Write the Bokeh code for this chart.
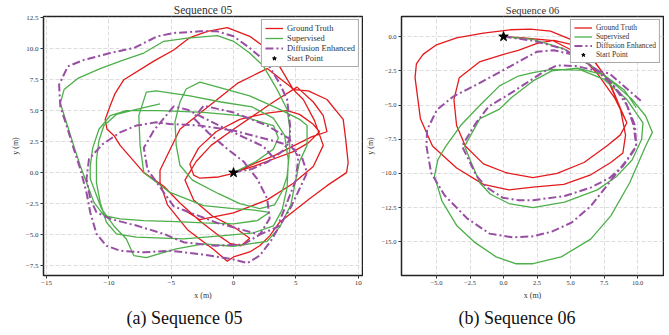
from bokeh.plotting import figure
from bokeh.models import FixedTicker, Legend, LegendItem, Title, Range1d
from bokeh.layouts import row
from bokeh.embed import file_html
from bokeh.resources import INLINE

# ---------------- data: Sequence 05 ----------------
gt05_x = [0, 1.6, 3.2, 4.8, 6.0, 6.9, 6.4, 5.3, 4.3, 2.7, 0.5, -1.4, -2.8, -3.5, -3.2, -2.7, -1.2, 0, 1.7, 3.3, 4.9, 6.3, 7.5,
          7.2, 6.4, 5.1, 3.2, 1.6, 0.0, -1.8, -3.0, -3.9, -3.2, -1.7, 0.2, 1.3, 0.6, -0.3, -1.3, -2.7, -4.3, -5.6, -7.2,
          -9.1, -9.6, -10.15, -10.3, -9.9, -9.5, -8.8, -6.4, -4.8, -3.5, -2.1, -0.5, 1.3, 2.4, 3.5, 4.8, 6.0, 7.5, 8.8,
          9.0, 9.2, 9.07, 7.5, 6.1, 3.7, 2.9, 2.1, 1.3, 0.0, -0.5, -1.6, -3.7, -5.3, -5.9, -5.9, -4.3, -2.7, 0.3, 2.7,
          4.5, 5.6, 6.5, 7.2, 6.4, 4.8, 2.7, 0.0, -2.7, -4.0]
gt05_y = [0, 0.5, 1.1, 1.7, 2.4, 3.3, 3.9, 4.7, 5.0, 4.8, 4.3, 3.3, 2.0, 0.7, -0.2, -0.45, -0.35, -0.05, 0.75, 1.4, 2.2, 2.9,
          3.3, 4.6, 5.7, 6.9, 5.7, 4.6, 3.5, 2.2, 0.9, -0.6, -2.2, -3.5, -4.5, -5.3, -5.9, -5.7, -5.0, -3.9, -2.45, -1.1,
          0.0, 2.2, 3.0, 3.5, 4.3, 5.4, 6.4, 7.5, 9.0, 9.9, 10.9, 11.4, 11.7, 11.0, 10.2, 8.9, 6.7, 6.6, 5.9, 4.3, 2.7,
          0.8, 0.0, -1.05, -2.1, -4.0, -5.1, -5.9, -6.4, -6.8, -7.15, -6.2, -4.6, -2.6, -0.8, 0.2, 3.5, 4.8, 7.2, 8.4,
          7.0, 5.9, 4.2, 2.2, 0.5, -0.85, -2.2, -3.25, -3.8, -3.0]

sup05_x = [0, 1.8, 3.2, 3.6, 3.2, 0.5, -2.4, -5.9, -8.6, -9.9, -10.8, -11.3, -11.5, -11.5, -10.6, -9.6, -8.6, -8.0, -7.0,
           -4.6, -2.4, 0.0, 2.7, 3.7, 4.6, 4.95, 5.3, 5.9, 5.9, 5.3, 3.7, 1.3, -2.7, -3.8, -4.3, -4.7, -4.6, -4.3, -3.3,
           -1.2, 0.5, 2.1, 3.3, 3.9, 4.3, 4.5, 4.5, 4.3, 3.5, 2.4, 1.3, 0.0, -1.3, -3.7, -5.6, -7.2, -8.8, -10.7, -12.5,
           -13.6, -13.9, -13.3, -12.8, -12.3, -11.8, -11.2, -10.4, -9.1, -7.2, -4.6, -2.4, 0.0, 1.9, 2.9, 1.5, 0.0, -2.4,
           -5.1, -7.2, -7.5, -7.6, -7.0, -6.2, -3.5, -1.0, 1.5, 3.2, 4.1, 4.4, 4.3, 3.9, 3.2, 1.6, -1.0, -4.0, -7.8, -9.4,
           -10.2, -10.7, -11.0, -11.0, -10.8, -10.4, -9.4, -7.8, -5.9]
sup05_y = [0, 0.9, 1.9, 2.8, 3.8, 4.6, 4.86, 5.0, 5.0, 4.6, 3.5, 2.0, 0.5, -0.5, -2.9, -4.3, -5.35, -6.7, -6.85, -6.15,
           -5.75, -5.94, -5.54, -4.4, -2.6, -0.8, 0.9, 2.2, 3.8, 4.3, 5.1, 6.2, 7.3, 6.75, 5.7, 4.1, 2.2, 0.6, -0.6, -1.7,
           -2.5, -2.9, -2.6, -1.5, -0.3, 1.8, 3.7, 5.1, 6.7, 8.6, 9.65, 10.6, 11.05, 10.86, 10.6, 9.65, 9.1, 8.4, 7.6, 6.7,
           5.6, 3.7, 2.1, 0.56, -0.8, -2.4, -3.47, -3.73, -3.87, -3.95, -4.06, -4.14, -3.87, -3.2, -3.0, -2.9, -2.66,
           -1.6, 0.0, 2.2, 4.6, 6.5, 6.6, 6.2, 5.7, 5.3, 4.4, 3.0, 1.0, -1.2, -3.0, -4.3, -4.86, -5.1, -5.35, -5.2, -4.94,
           -4.0, -2.4, -0.8, 1.0, 2.6, 3.8, 4.7, 5.1, 5.55]

dif05_x = [0, 1.5, 2.8, 4.0, 4.5, 4.55, 4.3, 3.7, 2.7, 1.3, 0, -1.3, -2.7, -4.8, -6.1, -8.0, -9.9, -12.0, -13.3, -14.0,
           -13.9, -13.3, -12.8, -12.3, -11.8, -11.5, -11.0, -10.2, -9.1, -7.2, -5.1, -2.5, 0.0, 1.1, 2.1, 3.0, 3.7, 4.6,
           5.3, 5.9, 5.5, 4.5, 2.7, 0.0, -2.7, -5.1, -6.2, -7.8, -9.1, -10.5, -11.6, -11.8, -11.5, -11.0, -9.9, -7.8,
           -5.6, -4.0, -1.5, 0.8, 2.1, 2.9, 2.7, 1.9, 0.8, -0.6, -2.0, -3.2, -2.4, 0.0, 2.7, 4.5, 5.2, 5.0, 4.3, 3.5, 2.1,
           -1.3, -4.8, -6.9, -7.2, -6.4, -4.8, -3.7, -0.5, 2.4, 3.2]
dif05_y = [0, 0.3, 0.9, 1.8, 2.7, 3.7, 5.9, 7.2, 8.85, 10.06, 11.0, 11.4, 11.4, 11.27, 11.0, 10.06, 9.65, 9.1, 8.57, 7.1,
           5.35, 3.47, 1.85, 0.3, -1.6, -3.2, -4.94, -5.9, -6.3, -6.43, -6.3, -6.6, -7.0, -7.3, -6.7, -5.5, -4.3, -2.8,
           -1.3, 0.0, 1.2, 2.2, 2.7, 3.4, 3.8, 3.93, 4.06, 3.8, 3.25, 2.3, 1.1, -0.5, -2.1, -3.2, -3.73, -4.27, -4.94,
           -5.62, -5.9, -5.8, -5.0, -3.7, -2.1, -0.5, 0.9, 2.0, 3.2, 4.4, 5.4, 4.86, 3.8, 2.72, 1.2, -0.6, -2.4, -4.4,
           -5.0, -4.06, -2.72, 0.24, 2.0, 3.4, 5.35, 5.08, 3.47, 2.12, 1.2]

start05_x = [0.0]
start05_y = [0.0]

# ---------------- data: Sequence 06 ----------------
gt06_x = [0, 1.5, 3.7, 5.5, 7.0, 8.3, 9.2, 8.7, 7.7, 6.0, 4.0, 2.2, 0.2, -1.5, -2.85, -3.5, -3.7, -3.3, -1.8, 0.0, 1.1,
          2.5, 3.75, 5.2, 6.6, 7.9, 8.7, 9.1, 8.9, 8.0, 6.5, 4.5, 2.2, 0.4, -1.5, -3.5, -5.3, -6.2, -6.6, -6.5, -6.0,
          -5.0, -3.5, -1.5, 0.5, 2.0, 3.5, 5.0, 6.5, 7.8, 8.6, 9.2]
gt06_y = [0, -0.1, -0.3, -1.2, -2.7, -4.5, -6.3, -7.2, -8.0, -9.2, -10.0, -10.3, -9.95, -9.3, -8.0, -6.5, -4.6, -3.0,
          -1.85, -1.3, -1.0, -0.5, -0.27, -0.6, -1.6, -3.3, -5.2, -7.2, -8.5, -9.2, -10.1, -10.8, -11.0, -11.2, -10.8,
          -9.6, -8.0, -6.0, -3.0, -2.0, -1.3, -0.6, -0.1, 0.25, 0.5, 0.55, 0.4, -0.2, -1.4, -3.2, -5.0, -6.3]

sup06_x = [0, 2.2, 4.5, 6.5, 8.2, 9.6, 10.6, 11.1, 10.6, 9.4, 8.0, 6.5, 4.3, 2.2, 0.9, -0.55, -2.2, -3.5, -4.6, -5.15,
           -4.9, -4.3, -3.2, -1.8, -0.3, 1.1, 2.2, 3.6, 5.8, 7.45, 9.2, 10.4, 10.3, 9.6, 8.45, 7.0, 4.55, 2.2, 0.4, -1.0,
           -1.76, -2.5, -2.9, -1.76, -0.3, 0.6, 2.2, 3.6, 5.5, 7.5, 9.0, 9.9]
sup06_y = [0, -0.2, -0.9, -2.1, -3.4, -4.6, -5.8, -7.0, -8.0, -10.7, -13.1, -14.8, -16.1, -16.6, -16.6, -16.1, -15.0,
           -13.8, -12.0, -10.2, -9.0, -8.0, -6.5, -5.05, -3.6, -2.88, -2.64, -2.4, -2.45, -3.1, -4.6, -6.3, -7.5, -9.0,
           -10.2, -11.2, -12.1, -12.5, -12.2, -11.5, -10.7, -9.0, -8.0, -6.0, -5.3, -4.45, -3.24, -2.5, -2.3, -2.8,
           -3.9, -5.2]

dif06_x = [0, 2.2, 4.5, 6.5, 8.2, 9.2, 9.7, 9.9, 9.2, 7.7, 6.5, 5.06, 3.6, 2.2, 0.65, -1.04, -2.7, -4.4, -5.4, -5.75,
           -5.7, -4.96, -3.75, -1.8, 1.34, 2.5, 3.75, 5.4, 7.5, 9.0, 9.8, 9.9, 9.6, 8.9, 7.95, 6.5, 4.55, 2.2, 1.14,
           -0.07, -1.28, -2.0, -3.1, -2.05, -1.1, 0.6, 3.0, 4.0, 5.4, 7.9, 10.3]
dif06_y = [0, -0.3, -0.9, -2.1, -3.6, -5.0, -6.5, -8.0, -9.0, -10.9, -12.4, -13.6, -14.25, -14.6, -14.67, -14.4, -13.3,
           -11.6, -9.96, -8.0, -6.8, -5.34, -4.38, -3.4, -1.72, -1.1, -1.0, -1.36, -2.8, -4.5, -6.5, -8.0, -8.5, -9.47,
           -10.3, -11.04, -11.65, -11.96, -11.96, -11.77, -11.0, -10.2, -8.0, -6.3, -5.1, -4.1, -2.56, -2.1, -2.15,
           -2.7, -4.75]

start06_x = [0.0]
start06_y = [0.0]

# ---------------- ticks / labels ----------------
x05_ticks = [-15, -10, -5, 0, 5, 10]
x05_labels = ["\u221215", "\u221210", "\u22125", "0", "5", "10"]
y05_ticks = [-7.5, -5.0, -2.5, 0.0, 2.5, 5.0, 7.5, 10.0, 12.5]
y05_labels = ["\u22127.5", "\u22125.0", "\u22122.5", "0.0", "2.5", "5.0", "7.5", "10.0", "12.5"]
x06_ticks = [-5.0, -2.5, 0.0, 2.5, 5.0, 7.5, 10.0]
x06_labels = ["\u22125.0", "\u22122.5", "0.0", "2.5", "5.0", "7.5", "10.0"]
y06_ticks = [-15.0, -12.5, -10.0, -7.5, -5.0, -2.5, 0.0]
y06_labels = ["\u221215.0", "\u221212.5", "\u221210.0", "\u22127.5", "\u22125.0", "\u22122.5", "0.0"]

series_names = ["Ground Truth", "Supervised", "Diffusion Enhanced", "Start Point"]
titles = ["Sequence 05", "Sequence 06"]
captions = ["(a) Sequence 05", "(b) Sequence 06"]

RED = "#e41a1c"
GREEN = "#4daf4a"
PURPLE = "#984ea3"
SERIF = "Liberation Serif"


def make_panel(width, xr, yr, gx, gy, sx, sy, dx, dy, stx, sty, xt, xl, yt, yl, title, caption,
               border_left, border_right, tick_fs, legend_fs, title_fs, cap_offset, row_h):
    p = figure(width=width, height=330, x_range=Range1d(*xr), y_range=Range1d(*yr),
               output_backend="svg", toolbar_location=None,
               min_border_left=border_left, min_border_right=border_right,
               min_border_top=2, min_border_bottom=2)
    p.title.text = title
    p.title.text_font = SERIF
    p.title.text_font_size = title_fs
    p.title.text_font_style = "normal"
    p.title.align = "center"
    p.title.text_color = "#333333"
    p.title.standoff = 2

    r1 = p.line(gx, gy, line_color=RED, line_width=1.3)
    r2 = p.line(sx, sy, line_color=GREEN, line_width=1.3)
    r3 = p.line(dx, dy, line_color=PURPLE, line_width=2.0, line_dash="8 3 2 3")
    r4 = p.scatter(stx, sty, marker="star", size=10, fill_color="black", line_color="black")

    legend = Legend(items=[LegendItem(label=series_names[0], renderers=[r1]),
                           LegendItem(label=series_names[1], renderers=[r2]),
                           LegendItem(label=series_names[2], renderers=[r3]),
                           LegendItem(label=series_names[3], renderers=[r4])],
                    location="top_right")
    legend.label_text_font = SERIF
    legend.label_text_font_size = legend_fs
    legend.label_text_color = "#333333"
    legend.glyph_width = 18
    legend.glyph_height = row_h
    legend.label_height = row_h
    legend.label_standoff = 4
    legend.spacing = 0
    legend.padding = 3
    legend.margin = 3
    legend.border_line_color = "#555555"
    legend.border_line_width = 1
    legend.background_fill_alpha = 1.0
    p.add_layout(legend)

    p.outline_line_color = "#222222"
    p.outline_line_width = 1.5
    p.background_fill_color = "white"
    p.border_fill_color = "white"

    for g in (p.xgrid, p.ygrid):
        g.grid_line_color = "#d4d4d4"
        g.grid_line_dash = "4 2"
        g.grid_line_width = 0.8

    p.xaxis.ticker = FixedTicker(ticks=xt)
    p.xaxis.major_label_overrides = {t: l for t, l in zip(xt, xl)}
    p.yaxis.ticker = FixedTicker(ticks=yt)
    p.yaxis.major_label_overrides = {t: l for t, l in zip(yt, yl)}
    for ax in (p.xaxis[0], p.yaxis[0]):
        ax.axis_line_color = None
        ax.major_tick_line_color = "#333333"
        ax.major_tick_out = 3
        ax.major_tick_in = 0
        ax.minor_tick_line_color = None
        ax.major_label_text_font = SERIF
        ax.major_label_text_font_size = tick_fs
        ax.major_label_text_color = "#333333"
        ax.major_label_standoff = 2
        ax.axis_label_text_font = SERIF
        ax.axis_label_text_font_size = "8px"
        ax.axis_label_text_font_style = "normal"
        ax.axis_label_text_color = "#333333"
        ax.axis_label_standoff = 3
    p.xaxis.axis_label = "x (m)"
    p.yaxis.axis_label = "y (m)"

    cap = Title(text=caption, text_font=SERIF, text_font_size="18px", text_font_style="normal",
                align="left", offset=cap_offset, text_color="#111111", standoff=6)
    p.add_layout(cap, "below")
    return p


p1 = make_panel(363, (-15.25, 10.35), (-8.3, 12.6), gt05_x, gt05_y, sup05_x, sup05_y, dif05_x, dif05_y,
                start05_x, start05_y, x05_ticks, x05_labels, y05_ticks, y05_labels, titles[0], captions[0],
                43, 1, "7px", "8.5px", "11.5px", 83, 10)
p2 = make_panel(301, (-7.61, 11.93), (-17.46, 1.47), gt06_x, gt06_y, sup06_x, sup06_y, dif06_x, dif06_y,
                start06_x, start06_y, x06_ticks, x06_labels, y06_ticks, y06_labels, titles[1], captions[1],
                31, 1, "6.5px", "7.5px", "10.5px", 57, 9)

layout = row(p1, p2)
open("out.html", "w").write(file_html(layout, INLINE))
